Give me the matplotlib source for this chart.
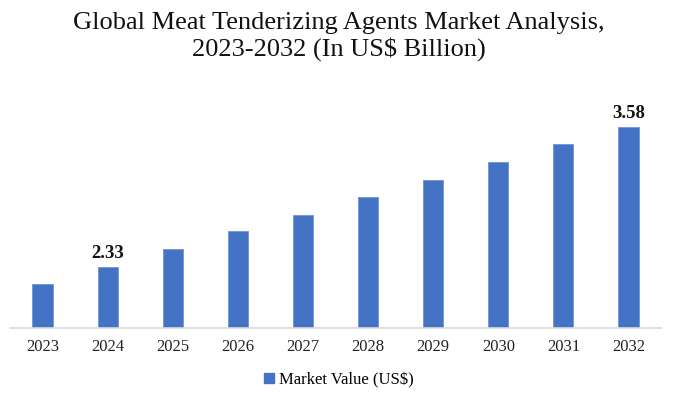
import matplotlib
matplotlib.use("Agg")
import matplotlib.pyplot as plt
from matplotlib.patches import Patch

years = ["2023", "2024", "2025", "2026", "2027", "2028", "2029", "2030", "2031", "2032"]
values = [2.18, 2.33, 2.49, 2.65, 2.80, 2.96, 3.11, 3.27, 3.43, 3.58]
labeled = {"2024": "2.33", "2032": "3.58"}

plt.rcParams["font.family"] = ["Liberation Serif", "DejaVu Serif"]
bar_color = "#4472C4"

fig = plt.figure(figsize=(6.78, 3.99), dpi=100)
ax = fig.add_axes([10 / 678, (399 - 327.7) / 399, 651 / 678, 227.7 / 399])

x = range(len(years))
bars = ax.bar(x, values, width=0.31, color=bar_color, edgecolor="#6f93d6", linewidth=0.6)
ax.set_ylim(1.791, 3.824)
ax.set_xlim(-0.5, len(years) - 0.5)

for i, (yr, v) in enumerate(zip(years, values)):
    if yr in labeled:
        ax.text(i, v + 0.05, labeled[yr], ha="center", va="bottom",
                fontsize=13.5, fontweight="bold", color="#111111")

ax.set_xticks(list(x))
ax.set_xticklabels(years, fontsize=12, color="#222222")
ax.tick_params(axis="x", length=0, pad=8)
ax.set_yticks([])
for s in ["top", "right", "left"]:
    ax.spines[s].set_visible(False)
ax.spines["bottom"].set_color("#d9d9d9")
ax.spines["bottom"].set_linewidth(1.2)

fig.text(0.5, 0.97, "Global Meat Tenderizing Agents Market Analysis,\n2023-2032 (In US$ Billion)",
         ha="center", va="top", fontsize=19, color="#111111", linespacing=1.18)

fig.legend(handles=[Patch(color=bar_color, label="Market Value (US$)")],
           loc="center", bbox_to_anchor=(0.5, 0.048), frameon=False,
           fontsize=12, handlelength=0.6, handleheight=0.6, handletextpad=0.3)

fig.savefig("out.png", dpi=100)
